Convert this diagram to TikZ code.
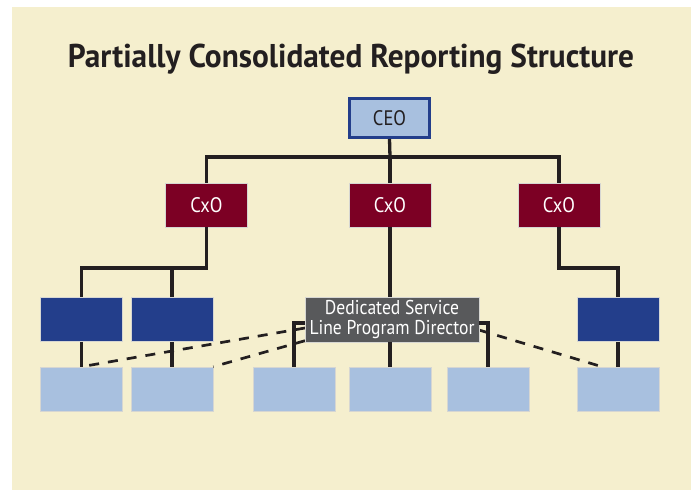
\documentclass[tikz,border=0pt]{standalone}
\usepackage{fontspec}
\usepackage{graphicx}
\setmainfont[FakeStretch=0.88]{PT Sans}
\usetikzlibrary{calc}

\definecolor{paper}{RGB}{245,239,206}
\definecolor{ink}{RGB}{35,31,32}
\definecolor{navy}{RGB}{35,62,139}
\definecolor{sky}{RGB}{168,192,223}
\definecolor{maroon}{RGB}{124,0,36}
\definecolor{slate}{RGB}{88,89,91}
\definecolor{rim}{RGB}{214,214,210}

\tikzset{
  box/.style={rectangle, inner sep=0pt, minimum width=82pt, minimum height=44pt,
              draw=rim, line width=0.6pt, font=\fontsize{20}{20}\selectfont},
  chief/.style={box, fill=sky, draw=navy, line width=3pt,
                minimum width=80pt, minimum height=39pt, text=ink,
                font=\fontsize{21}{21}\selectfont},
  officer/.style={box, fill=maroon, text=white, font=\fontsize{21}{21}\selectfont},
  unit/.style={box, fill=navy},
  team/.style={box, fill=sky},
  director/.style={box, fill=slate, text=white, align=center,
                   minimum width=174pt, minimum height=45pt},
  solidlink/.style={draw=ink, line width=3.3pt},
  dottedlink/.style={draw=ink, line width=2.7pt, dash pattern=on 10pt off 9pt}
}

\begin{document}
\begin{tikzpicture}[x=1pt, y=-1pt]
  % page and panel
  \useasboundingbox (0,0) rectangle (693,491);
  \fill[white] (0,0) rectangle (693,491);
  \fill[paper] (12,7) rectangle (691,490);

  % heading
  \node[anchor=base, text=ink, inner sep=0pt] (title) at (351,67)
    {\resizebox{566pt}{23.5pt}{\bfseries Partially Consolidated Reporting Structure}};

  % boxes
  \node[chief]   (ceo)  at (389.5,118) {CEO};
  \node[officer] (cxoL) at (206.5,205) {CxO};
  \node[officer] (cxoM) at (390,205)   {CxO};
  \node[officer] (cxoR) at (559,205)   {CxO};

  \node[unit] (dbL1) at (81.5,319.5) {};
  \node[unit] (dbL2) at (172,319.5)  {};
  \node[unit] (dbR)  at (618,319.5)  {};

  \node[team] (lb1) at (81.5,389) {};
  \node[team] (lb2) at (172,389)  {};
  \node[team] (lb3) at (294,389)  {};
  \node[team] (lb4) at (390,389)  {};
  \node[team] (lb5) at (488,389)  {};
  \node[team] (lb6) at (618,389)  {};

  % junction points of the solid lines
  \coordinate (busTop) at (390,157);
  \coordinate (busL)   at (206.5,268);
  \coordinate (busR)   at (559,268);
  \coordinate (brk)    at (294,323);
  \coordinate (dashR)  at (479,330);
  \coordinate (dashL)  at (305,328);
  \coordinate (dashEnd) at (603,367);

  % solid reporting lines
  \draw[solidlink] (ceo.south) -- (busTop);
  \draw[solidlink] (cxoL.north) |- (busTop) -| (cxoR.north);
  \draw[solidlink] (busTop) -- (cxoM.north);
  \draw[solidlink] (cxoL.south) -- (busL) -| (dbL1.north);
  \draw[solidlink] (dbL2.north) -- (dbL2.north |- busL);
  \draw[solidlink] (cxoR.south) -- (busR) -| (dbR.north);
  \draw[solidlink] (dbL1.south) -- (lb1.north);
  \draw[solidlink] (dbL2.south) -- (lb2.north);
  \draw[solidlink] (dbR.south) -- (lb6.north);

  % dotted-line reports from the program director
  \draw[dottedlink] (dashL) -- (lb1.north);
  \draw[dottedlink] ($(dashL |- lb4.north)+(0,-26)$) -- (lb2.north east);
  \draw[dottedlink] (dashR) -- (dashEnd);

  % director and its direct teams (drawn over the dashed ends)
  \node[director] (dir) at (392,319.5) {Dedicated Service\\Line Program Director};
  \draw[solidlink] (cxoM.south) -- (cxoM.south |- dir.north);
  \draw[solidlink] (lb4.north |- dir.south) -- (lb4.north);
  \draw[solidlink] (dir.west |- brk) -| (lb3.north);
  \draw[solidlink] (dir.east |- brk) -| (lb5.north);
\end{tikzpicture}
\end{document}
